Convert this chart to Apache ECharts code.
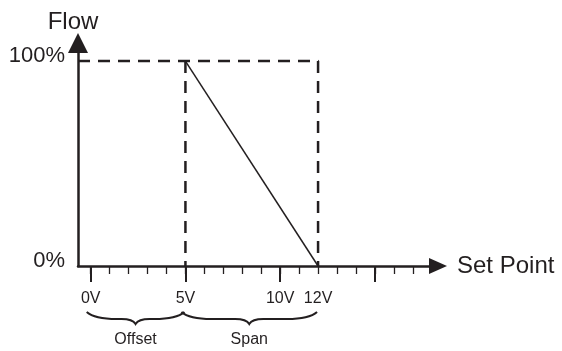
<!DOCTYPE html>
<html>
<head>
<meta charset="utf-8">
<script src="https://cdn.jsdelivr.net/npm/echarts@6/dist/echarts.min.js"></script>
<style>
  html, body { margin: 0; padding: 0; background: #fff; }
  #chart { width: 562px; height: 351px; }
</style>
</head>
<body>
<div id="chart"></div>
<script>
// data
const minorTicks = [0, 1, 2, 3, 4, 5, 6, 7, 8, 9, 10, 11, 12, 13, 14, 15, 16, 17];
const majorTicks = [0, 5, 10, 15];
const voltLabels = [0, 5, 10, 12];
const flowLabels = [0, 100];
const offsetVolt = 5;   // flow starts dropping here
const spanEnd = 12;     // flow reaches 0 here
const flowMax = 100;
const braceRanges = [[0, 5], [5, 12]];
const braceNames = ['Offset', 'Span'];

const INK = '#231f20';
const FONT = '"Liberation Sans", Arial, sans-serif';
const X_MIN = -0.67, X_MAX = 18.33;

var chart = echarts.init(document.getElementById('chart'));

chart.setOption({
  animation: false,
  grid: { left: 78, right: 124, top: 43, bottom: 85 },
  xAxis: [{
    type: 'value',
    position: 'bottom',
    min: X_MIN,
    max: X_MAX,
    name: 'Set Point',
    nameLocation: 'end',
    nameGap: 19,
    nameTextStyle: { fontFamily: FONT, fontSize: 24, color: INK, verticalAlign: 'middle' },
    axisLine: {
      show: true,
      onZero: false,
      symbol: ['none', 'triangle'],
      symbolSize: [16, 18],
      lineStyle: { color: INK, width: 2.5 }
    },
    axisTick: { show: true, customValues: minorTicks, length: 8, lineStyle: { color: INK, width: 1.3 } },
    axisLabel: {
      customValues: voltLabels,
      formatter: function (v) { return v + 'V'; },
      margin: 25,
      fontFamily: FONT, fontSize: 16, color: INK
    },
    splitLine: { show: false }
  }, {
    type: 'value',
    position: 'bottom',
    min: X_MIN,
    max: X_MAX,
    axisLine: { show: false, onZero: false },
    axisTick: { show: true, customValues: majorTicks, length: 16, lineStyle: { color: INK, width: 2 } },
    axisLabel: { show: false },
    splitLine: { show: false }
  }],
  yAxis: {
    type: 'value',
    min: 0,
    max: 108.8,
    name: 'Flow',
    nameLocation: 'end',
    nameGap: 9,
    nameTextStyle: { fontFamily: FONT, fontSize: 24, color: INK, padding: [0, 10, 0, 0] },
    axisLine: {
      show: true,
      onZero: false,
      symbol: ['none', 'triangle'],
      symbolSize: [20, 20],
      lineStyle: { color: INK, width: 2.5 }
    },
    axisTick: { show: false },
    axisLabel: {
      customValues: flowLabels,
      formatter: function (v) { return v + '%'; },
      margin: 13,
      verticalAlign: 'bottom',
      lineHeight: 11,
      fontFamily: FONT, fontSize: 22, color: INK
    },
    splitLine: { show: false }
  },
  series: [
    {
      // dashed box: top edge and right side at span end
      type: 'line',
      silent: true,
      symbol: 'none',
      data: [[X_MIN, flowMax], [spanEnd, flowMax], [spanEnd, 0]],
      lineStyle: { color: INK, width: 2.5, type: [12, 8] }
    },
    {
      // dashed offset marker
      type: 'line',
      silent: true,
      symbol: 'none',
      data: [[offsetVolt, flowMax], [offsetVolt, 0]],
      lineStyle: { color: INK, width: 2.5, type: [12, 8] }
    },
    {
      // flow vs set point
      type: 'line',
      silent: true,
      symbol: 'none',
      data: [[offsetVolt, flowMax], [spanEnd, 0]],
      lineStyle: { color: INK, width: 1.5 }
    },
    {
      // braces under the axis
      type: 'custom',
      silent: true,
      data: braceRanges,
      encode: { x: [0, 1] },
      renderItem: function (params, api) {
        var a = api.coord([api.value(0), 0]);
        var b = api.coord([api.value(1), 0]);
        var x0 = a[0] - 4, x1 = b[0] - 1, xm = (x0 + x1) / 2;
        var t = a[1] + 46, m = a[1] + 53, d = a[1] + 58;
        var p = 'M' + x0 + ',' + t +
          ' Q' + (x0 + 8) + ',' + m + ' ' + (x0 + 30) + ',' + m +
          ' L' + (xm - 14) + ',' + m +
          ' Q' + (xm - 3) + ',' + m + ' ' + xm + ',' + d +
          ' Q' + (xm + 3) + ',' + m + ' ' + (xm + 14) + ',' + m +
          ' L' + (x1 - 30) + ',' + m +
          ' Q' + (x1 - 8) + ',' + m + ' ' + x1 + ',' + t;
        return {
          type: 'group',
          children: [{
            type: 'path',
            shape: { pathData: p },
            style: { fill: 'none', stroke: INK, lineWidth: 2 }
          }, {
            type: 'text',
            style: {
              text: braceNames[params.dataIndex],
              x: xm, y: a[1] + 74,
              align: 'center', verticalAlign: 'middle',
              fontFamily: FONT, fontSize: 16, fill: INK
            }
          }]
        };
      }
    }
  ]
});
</script>
</body>
</html>
